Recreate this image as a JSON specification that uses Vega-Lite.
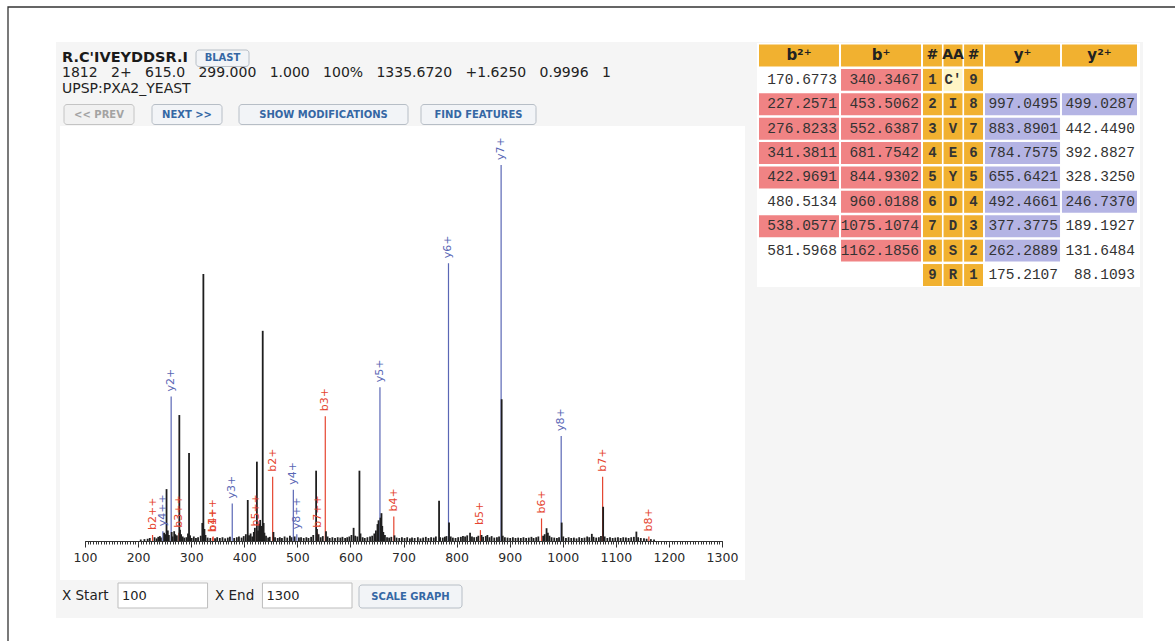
{
"$schema": "https://vega.github.io/schema/vega-lite/v6.json",
"width": 1167, "height": 634,
"autosize": {"type": "none"},
"padding": {"left": 8, "top": 7, "right": 0, "bottom": 0},
"background": "white",
"config": {"view": {"stroke": null}, "axis": {"grid": false}},
"resolve": {"scale": {"x": "independent", "y": "independent", "color": "independent"}, "axis": {"x": "independent", "y": "independent"}},
"datasets": {
"peaks": [
{"mz":227.26,"i":1.6,"ion":"b","label":"b2++"},
{"mz":246.74,"i":2.6,"ion":"y","label":"y4++"},
{"mz":262.29,"i":38.4,"ion":"y","label":"y2+"},
{"mz":276.82,"i":2.2,"ion":"b","label":"b3++"},
{"mz":340.35,"i":1.0,"ion":"b","label":"b1+"},
{"mz":341.38,"i":1.2,"ion":"b","label":"b4++"},
{"mz":377.38,"i":10.0,"ion":"y","label":"y3+"},
{"mz":422.97,"i":2.5,"ion":"b","label":"b5++"},
{"mz":453.51,"i":17.1,"ion":"b","label":"b2+"},
{"mz":492.47,"i":13.6,"ion":"y","label":"y4+"},
{"mz":499.03,"i":1.8,"ion":"y","label":"y8++"},
{"mz":538.06,"i":2.2,"ion":"b","label":"b7++"},
{"mz":552.64,"i":33.2,"ion":"b","label":"b3+"},
{"mz":655.64,"i":40.9,"ion":"y","label":"y5+"},
{"mz":681.75,"i":6.5,"ion":"b","label":"b4+"},
{"mz":784.76,"i":73.9,"ion":"y","label":"y6+"},
{"mz":844.93,"i":2.9,"ion":"b","label":"b5+"},
{"mz":883.89,"i":100,"ion":"y","label":"y7+"},
{"mz":960.02,"i":6.0,"ion":"b","label":"b6+"},
{"mz":997.05,"i":27.9,"ion":"y","label":"y8+"},
{"mz":1075.11,"i":17.1,"ion":"b","label":"b7+"},
{"mz":1162.19,"i":1.2,"ion":"b","label":"b8+"},
{"mz":205,"i":0.4,"ion":"n"},{"mz":212,"i":0.5,"ion":"n"},{"mz":218,"i":0.6,"ion":"n"},{"mz":222,"i":0.8,"ion":"n"},
{"mz":231,"i":1.0,"ion":"n"},{"mz":235,"i":0.7,"ion":"n"},{"mz":238,"i":1.1,"ion":"n"},{"mz":241,"i":1.3,"ion":"n"},
{"mz":243,"i":0.9,"ion":"n"},{"mz":249,"i":2.2,"ion":"n"},{"mz":251,"i":1.8,"ion":"n"},{"mz":253.6,"i":13.8,"ion":"n"},
{"mz":256,"i":2.8,"ion":"n"},{"mz":258,"i":1.6,"ion":"n"},{"mz":263.3,"i":2.4,"ion":"n"},{"mz":265,"i":1.2,"ion":"n"},
{"mz":268,"i":2.6,"ion":"n"},{"mz":270,"i":1.8,"ion":"n"},{"mz":273,"i":1.5,"ion":"n"},{"mz":277.7,"i":33.5,"ion":"n"},
{"mz":279,"i":3.0,"ion":"n"},{"mz":281,"i":1.8,"ion":"n"},{"mz":284,"i":1.2,"ion":"n"},{"mz":287,"i":0.9,"ion":"n"},
{"mz":291,"i":1.0,"ion":"n"},{"mz":294,"i":2.0,"ion":"n"},{"mz":296,"i":23.4,"ion":"n"},{"mz":298,"i":1.5,"ion":"n"},
{"mz":301,"i":0.8,"ion":"n"},{"mz":305,"i":1.2,"ion":"n"},{"mz":309,"i":0.8,"ion":"n"},{"mz":313,"i":1.0,"ion":"n"},
{"mz":318,"i":1.4,"ion":"n"},{"mz":321,"i":4.8,"ion":"n"},{"mz":323,"i":71.0,"ion":"n"},{"mz":325,"i":3.2,"ion":"n"},
{"mz":327,"i":1.6,"ion":"n"},{"mz":331,"i":0.9,"ion":"n"},{"mz":336,"i":0.8,"ion":"n"},{"mz":345,"i":0.7,"ion":"n"},
{"mz":349,"i":1.0,"ion":"n"},{"mz":354,"i":0.8,"ion":"n"},{"mz":359,"i":1.0,"ion":"n"},{"mz":364,"i":0.7,"ion":"n"},
{"mz":369,"i":0.9,"ion":"n"},{"mz":373,"i":1.1,"ion":"n"},{"mz":381,"i":0.8,"ion":"n"},{"mz":386,"i":1.0,"ion":"n"},
{"mz":390,"i":1.2,"ion":"n"},{"mz":395,"i":0.9,"ion":"n"},{"mz":399,"i":1.3,"ion":"n"},{"mz":403,"i":1.8,"ion":"n"},
{"mz":406.6,"i":10.9,"ion":"n"},{"mz":409,"i":1.5,"ion":"n"},{"mz":412,"i":2.0,"ion":"n"},{"mz":415,"i":1.2,"ion":"n"},
{"mz":418,"i":2.4,"ion":"n"},{"mz":420,"i":3.5,"ion":"n"},{"mz":423.8,"i":21.1,"ion":"n"},{"mz":426,"i":2.8,"ion":"n"},
{"mz":428,"i":4.6,"ion":"n"},{"mz":430,"i":5.6,"ion":"n"},{"mz":432,"i":4.0,"ion":"n"},{"mz":434.8,"i":55.9,"ion":"n"},
{"mz":436.5,"i":4.8,"ion":"n"},{"mz":438,"i":2.2,"ion":"n"},{"mz":441,"i":1.4,"ion":"n"},{"mz":445,"i":0.9,"ion":"n"},
{"mz":448,"i":1.1,"ion":"n"},{"mz":455,"i":2.4,"ion":"n"},{"mz":458,"i":1.0,"ion":"n"},{"mz":463,"i":0.8,"ion":"n"},
{"mz":467,"i":1.0,"ion":"n"},{"mz":471,"i":0.8,"ion":"n"},{"mz":476,"i":1.2,"ion":"n"},{"mz":481,"i":0.9,"ion":"n"},
{"mz":486,"i":1.4,"ion":"n"},{"mz":489,"i":1.0,"ion":"n"},{"mz":495,"i":1.2,"ion":"n"},{"mz":503,"i":0.9,"ion":"n"},
{"mz":507,"i":1.0,"ion":"n"},{"mz":512,"i":0.8,"ion":"n"},{"mz":517,"i":1.0,"ion":"n"},{"mz":521,"i":0.8,"ion":"n"},
{"mz":526,"i":1.1,"ion":"n"},{"mz":530,"i":1.6,"ion":"n"},{"mz":535.4,"i":18.7,"ion":"n"},{"mz":537,"i":3.2,"ion":"n"},
{"mz":540,"i":1.8,"ion":"n"},{"mz":544,"i":1.0,"ion":"n"},{"mz":548,"i":1.3,"ion":"n"},{"mz":554,"i":2.6,"ion":"n"},
{"mz":557,"i":1.2,"ion":"n"},{"mz":561,"i":0.8,"ion":"n"},{"mz":566,"i":1.0,"ion":"n"},{"mz":571,"i":0.8,"ion":"n"},
{"mz":576,"i":1.0,"ion":"n"},{"mz":581,"i":0.9,"ion":"n"},{"mz":585,"i":1.1,"ion":"n"},{"mz":590,"i":0.8,"ion":"n"},
{"mz":594,"i":1.0,"ion":"n"},{"mz":598,"i":1.2,"ion":"n"},{"mz":602,"i":1.6,"ion":"n"},{"mz":606,"i":3.5,"ion":"n"},
{"mz":609,"i":1.4,"ion":"n"},{"mz":613,"i":1.2,"ion":"n"},{"mz":617,"i":18.7,"ion":"n"},{"mz":619,"i":2.0,"ion":"n"},
{"mz":623,"i":1.0,"ion":"n"},{"mz":627,"i":0.8,"ion":"n"},{"mz":632,"i":1.0,"ion":"n"},{"mz":637,"i":1.2,"ion":"n"},
{"mz":641,"i":1.4,"ion":"n"},{"mz":645,"i":2.0,"ion":"n"},{"mz":648,"i":2.8,"ion":"n"},{"mz":651,"i":4.5,"ion":"n"},
{"mz":653,"i":5.5,"ion":"n"},{"mz":656.6,"i":6.2,"ion":"n"},{"mz":658.5,"i":7.4,"ion":"n"},{"mz":660,"i":4.0,"ion":"n"},
{"mz":662,"i":2.4,"ion":"n"},{"mz":665,"i":1.6,"ion":"n"},{"mz":669,"i":1.0,"ion":"n"},{"mz":673,"i":0.9,"ion":"n"},
{"mz":677,"i":1.1,"ion":"n"},{"mz":683,"i":1.5,"ion":"n"},{"mz":687,"i":0.9,"ion":"n"},{"mz":692,"i":0.8,"ion":"n"},
{"mz":697,"i":1.0,"ion":"n"},{"mz":702,"i":0.8,"ion":"n"},{"mz":707,"i":1.0,"ion":"n"},{"mz":712,"i":0.7,"ion":"n"},
{"mz":716,"i":0.9,"ion":"n"},{"mz":721,"i":0.8,"ion":"n"},{"mz":727,"i":1.0,"ion":"n"},{"mz":732,"i":0.7,"ion":"n"},
{"mz":737,"i":0.9,"ion":"n"},{"mz":742,"i":1.1,"ion":"n"},{"mz":747,"i":0.8,"ion":"n"},{"mz":752,"i":1.0,"ion":"n"},
{"mz":757,"i":0.9,"ion":"n"},{"mz":761,"i":1.2,"ion":"n"},{"mz":767,"i":10.7,"ion":"n"},{"mz":769,"i":1.0,"ion":"n"},
{"mz":774,"i":0.9,"ion":"n"},{"mz":778,"i":1.1,"ion":"n"},{"mz":781,"i":1.3,"ion":"n"},{"mz":785.8,"i":4.9,"ion":"n"},
{"mz":789,"i":1.2,"ion":"n"},{"mz":793,"i":0.9,"ion":"n"},{"mz":798,"i":0.8,"ion":"n"},{"mz":803,"i":1.0,"ion":"n"},
{"mz":808,"i":1.1,"ion":"n"},{"mz":812,"i":1.3,"ion":"n"},{"mz":816,"i":1.2,"ion":"n"},{"mz":820,"i":1.5,"ion":"n"},
{"mz":825.4,"i":2.2,"ion":"n"},{"mz":829,"i":1.2,"ion":"n"},{"mz":833,"i":1.0,"ion":"n"},{"mz":838,"i":1.1,"ion":"n"},
{"mz":841,"i":1.4,"ion":"n"},{"mz":847,"i":1.6,"ion":"n"},{"mz":850,"i":1.1,"ion":"n"},{"mz":855,"i":1.3,"ion":"n"},
{"mz":858,"i":1.6,"ion":"n"},{"mz":862,"i":1.0,"ion":"n"},{"mz":866,"i":1.3,"ion":"n"},{"mz":871,"i":0.9,"ion":"n"},
{"mz":876,"i":1.0,"ion":"n"},{"mz":880,"i":1.2,"ion":"n"},{"mz":884.9,"i":37.7,"ion":"n"},{"mz":887,"i":1.4,"ion":"n"},
{"mz":891,"i":1.0,"ion":"n"},{"mz":896,"i":0.9,"ion":"n"},{"mz":901,"i":0.8,"ion":"n"},{"mz":906,"i":1.0,"ion":"n"},
{"mz":911,"i":0.8,"ion":"n"},{"mz":916,"i":0.9,"ion":"n"},{"mz":921,"i":0.8,"ion":"n"},{"mz":926,"i":1.0,"ion":"n"},
{"mz":931,"i":0.8,"ion":"n"},{"mz":936,"i":0.9,"ion":"n"},{"mz":941,"i":1.1,"ion":"n"},{"mz":945,"i":0.8,"ion":"n"},
{"mz":950,"i":1.0,"ion":"n"},{"mz":954,"i":1.2,"ion":"n"},{"mz":963,"i":1.4,"ion":"n"},{"mz":966,"i":1.8,"ion":"n"},
{"mz":969.5,"i":3.4,"ion":"n"},{"mz":972,"i":2.2,"ion":"n"},{"mz":975,"i":1.4,"ion":"n"},{"mz":979,"i":1.0,"ion":"n"},
{"mz":984,"i":0.9,"ion":"n"},{"mz":989,"i":0.8,"ion":"n"},{"mz":993,"i":1.0,"ion":"n"},{"mz":998,"i":4.9,"ion":"n"},
{"mz":1001,"i":1.2,"ion":"n"},{"mz":1006,"i":0.8,"ion":"n"},{"mz":1011,"i":1.0,"ion":"n"},{"mz":1016,"i":0.8,"ion":"n"},
{"mz":1021,"i":0.9,"ion":"n"},{"mz":1026,"i":0.7,"ion":"n"},{"mz":1031,"i":1.0,"ion":"n"},{"mz":1036,"i":0.8,"ion":"n"},
{"mz":1041,"i":0.9,"ion":"n"},{"mz":1046,"i":1.2,"ion":"n"},{"mz":1050,"i":1.0,"ion":"n"},{"mz":1054.8,"i":1.9,"ion":"n"},
{"mz":1058,"i":1.1,"ion":"n"},{"mz":1063,"i":0.9,"ion":"n"},{"mz":1068,"i":1.0,"ion":"n"},{"mz":1072,"i":1.3,"ion":"n"},
{"mz":1076.1,"i":9.1,"ion":"n"},{"mz":1079,"i":1.2,"ion":"n"},{"mz":1084,"i":0.8,"ion":"n"},{"mz":1089,"i":1.0,"ion":"n"},
{"mz":1094,"i":0.8,"ion":"n"},{"mz":1099,"i":0.9,"ion":"n"},{"mz":1104,"i":1.0,"ion":"n"},{"mz":1109,"i":0.8,"ion":"n"},
{"mz":1114,"i":1.0,"ion":"n"},{"mz":1119,"i":0.9,"ion":"n"},{"mz":1124,"i":0.8,"ion":"n"},{"mz":1129,"i":1.0,"ion":"n"},
{"mz":1134,"i":1.1,"ion":"n"},{"mz":1138.7,"i":2.5,"ion":"n"},{"mz":1142,"i":1.0,"ion":"n"},{"mz":1147,"i":0.8,"ion":"n"},
{"mz":1153,"i":0.7,"ion":"n"},{"mz":1158,"i":0.6,"ion":"n"},{"mz":1166,"i":0.5,"ion":"n"},{"mz":1172,"i":0.4,"ion":"n"}
],
"table": [
{"row":"h","col":"b2+","text":"b²⁺","kind":"gold"},{"row":"h","col":"b+","text":"b⁺","kind":"gold"},{"row":"h","col":"n1","text":"#","kind":"gold"},{"row":"h","col":"aa","text":"AA","kind":"gold"},{"row":"h","col":"n2","text":"#","kind":"gold"},{"row":"h","col":"y+","text":"y⁺","kind":"gold"},{"row":"h","col":"y2+","text":"y²⁺","kind":"gold"},
{"row":"1","col":"b2+","text":"170.6773","kind":"plain"},{"row":"1","col":"b+","text":"340.3467","kind":"b"},{"row":"1","col":"n1","text":"1","kind":"gold"},{"row":"1","col":"aa","text":"C'","kind":"cmod"},{"row":"1","col":"n2","text":"9","kind":"gold"},{"row":"1","col":"y+","text":"","kind":"plain"},{"row":"1","col":"y2+","text":"","kind":"plain"},
{"row":"2","col":"b2+","text":"227.2571","kind":"b"},{"row":"2","col":"b+","text":"453.5062","kind":"b"},{"row":"2","col":"n1","text":"2","kind":"gold"},{"row":"2","col":"aa","text":"I","kind":"gold"},{"row":"2","col":"n2","text":"8","kind":"gold"},{"row":"2","col":"y+","text":"997.0495","kind":"y"},{"row":"2","col":"y2+","text":"499.0287","kind":"y"},
{"row":"3","col":"b2+","text":"276.8233","kind":"b"},{"row":"3","col":"b+","text":"552.6387","kind":"b"},{"row":"3","col":"n1","text":"3","kind":"gold"},{"row":"3","col":"aa","text":"V","kind":"gold"},{"row":"3","col":"n2","text":"7","kind":"gold"},{"row":"3","col":"y+","text":"883.8901","kind":"y"},{"row":"3","col":"y2+","text":"442.4490","kind":"plain"},
{"row":"4","col":"b2+","text":"341.3811","kind":"b"},{"row":"4","col":"b+","text":"681.7542","kind":"b"},{"row":"4","col":"n1","text":"4","kind":"gold"},{"row":"4","col":"aa","text":"E","kind":"gold"},{"row":"4","col":"n2","text":"6","kind":"gold"},{"row":"4","col":"y+","text":"784.7575","kind":"y"},{"row":"4","col":"y2+","text":"392.8827","kind":"plain"},
{"row":"5","col":"b2+","text":"422.9691","kind":"b"},{"row":"5","col":"b+","text":"844.9302","kind":"b"},{"row":"5","col":"n1","text":"5","kind":"gold"},{"row":"5","col":"aa","text":"Y","kind":"gold"},{"row":"5","col":"n2","text":"5","kind":"gold"},{"row":"5","col":"y+","text":"655.6421","kind":"y"},{"row":"5","col":"y2+","text":"328.3250","kind":"plain"},
{"row":"6","col":"b2+","text":"480.5134","kind":"plain"},{"row":"6","col":"b+","text":"960.0188","kind":"b"},{"row":"6","col":"n1","text":"6","kind":"gold"},{"row":"6","col":"aa","text":"D","kind":"gold"},{"row":"6","col":"n2","text":"4","kind":"gold"},{"row":"6","col":"y+","text":"492.4661","kind":"y"},{"row":"6","col":"y2+","text":"246.7370","kind":"y"},
{"row":"7","col":"b2+","text":"538.0577","kind":"b"},{"row":"7","col":"b+","text":"1075.1074","kind":"b"},{"row":"7","col":"n1","text":"7","kind":"gold"},{"row":"7","col":"aa","text":"D","kind":"gold"},{"row":"7","col":"n2","text":"3","kind":"gold"},{"row":"7","col":"y+","text":"377.3775","kind":"y"},{"row":"7","col":"y2+","text":"189.1927","kind":"plain"},
{"row":"8","col":"b2+","text":"581.5968","kind":"plain"},{"row":"8","col":"b+","text":"1162.1856","kind":"b"},{"row":"8","col":"n1","text":"8","kind":"gold"},{"row":"8","col":"aa","text":"S","kind":"gold"},{"row":"8","col":"n2","text":"2","kind":"gold"},{"row":"8","col":"y+","text":"262.2889","kind":"y"},{"row":"8","col":"y2+","text":"131.6484","kind":"plain"},
{"row":"9","col":"b2+","text":"","kind":"plain"},{"row":"9","col":"b+","text":"","kind":"plain"},{"row":"9","col":"n1","text":"9","kind":"gold"},{"row":"9","col":"aa","text":"R","kind":"gold"},{"row":"9","col":"n2","text":"1","kind":"gold"},{"row":"9","col":"y+","text":"175.2107","kind":"plain"},{"row":"9","col":"y2+","text":"88.1093","kind":"plain"}
]
},
"layer": [
{"data": {"values": [{"region": "frame"}]},
 "mark": {"type": "rect", "fill": null, "stroke": "#333333", "strokeWidth": 1.3},
 "encoding": {
  "x": {"field": "region", "type": "nominal", "scale": {"type": "band", "range": [0, 1300], "paddingInner": 0, "paddingOuter": 0}, "axis": null},
  "y": {"field": "region", "type": "nominal", "scale": {"type": "band", "range": [0, 800], "paddingInner": 0, "paddingOuter": 0}, "axis": null}}},
{"data": {"values": [{"region": "panel"}]},
 "mark": {"type": "rect", "fill": "#f5f5f5"},
 "encoding": {
  "x": {"field": "region", "type": "nominal", "scale": {"type": "band", "range": [48, 1135], "paddingInner": 0, "paddingOuter": 0}, "axis": null},
  "y": {"field": "region", "type": "nominal", "scale": {"type": "band", "range": [35, 611], "paddingInner": 0, "paddingOuter": 0}, "axis": null}}},
{"data": {"values": [{"region": "spectrum"}]},
 "mark": {"type": "rect", "fill": "#ffffff"},
 "encoding": {
  "x": {"field": "region", "type": "nominal", "scale": {"type": "band", "range": [52, 737], "paddingInner": 0, "paddingOuter": 0}, "axis": null},
  "y": {"field": "region", "type": "nominal", "scale": {"type": "band", "range": [119, 573], "paddingInner": 0, "paddingOuter": 0}, "axis": null}}},
{"data": {"values": [{"region": "table"}]},
 "mark": {"type": "rect", "fill": "#ffffff"},
 "encoding": {
  "x": {"field": "region", "type": "nominal", "scale": {"type": "band", "range": [749, 1132], "paddingInner": 0, "paddingOuter": 0}, "axis": null},
  "y": {"field": "region", "type": "nominal", "scale": {"type": "band", "range": [36, 280], "paddingInner": 0, "paddingOuter": 0}, "axis": null}}},
{"data": {"name": "table"},
 "transform": [{"filter": {"field": "col", "oneOf": ["b2+", "b+"]}}],
 "encoding": {
  "x": {"field": "col", "type": "nominal", "scale": {"type": "band", "domain": ["b2+", "b+"], "range": [751, 913], "paddingInner": 0.025, "paddingOuter": 0}, "axis": null},
  "y": {"field": "row", "type": "nominal", "scale": {"type": "band", "domain": ["h","1","2","3","4","5","6","7","8","9"], "range": [37.5, 279], "paddingInner": 0.1, "paddingOuter": 0}, "axis": null}},
 "layer": [
  {"mark": {"type": "rect"}, "encoding": {"fill": {"field": "kind", "type": "nominal", "scale": {"domain": ["gold","b","y","plain","cmod"], "range": ["#f1b130","#f08384","#b4b4e4","#ffffff","#fff5c4"]}, "legend": null}}},
  {"transform": [{"filter": "datum.row == 'h'"}], "mark": {"type": "text", "font": "DejaVu Sans", "fontSize": 15, "fontWeight": "bold", "fill": "#222222"}, "encoding": {"text": {"field": "text", "type": "nominal"}}},
  {"transform": [{"filter": "datum.row != 'h'"}], "mark": {"type": "text", "font": "Liberation Mono", "fontSize": 14.5, "fill": "#333333", "align": "right", "dx": -2},
   "encoding": {"text": {"field": "text", "type": "nominal"}, "x": {"field": "col", "type": "nominal", "bandPosition": 1, "scale": {"type": "band", "domain": ["b2+", "b+"], "range": [751, 913], "paddingInner": 0.025, "paddingOuter": 0}, "axis": null}}}
 ]},
{"data": {"name": "table"},
 "transform": [{"filter": {"field": "col", "oneOf": ["n1", "aa", "n2"]}}],
 "encoding": {
  "x": {"field": "col", "type": "nominal", "scale": {"type": "band", "domain": ["n1", "aa", "n2"], "range": [915, 975], "paddingInner": 0.08, "paddingOuter": 0}, "axis": null},
  "y": {"field": "row", "type": "nominal", "scale": {"type": "band", "domain": ["h","1","2","3","4","5","6","7","8","9"], "range": [37.5, 279], "paddingInner": 0.1, "paddingOuter": 0}, "axis": null}},
 "layer": [
  {"mark": {"type": "rect"}, "encoding": {"fill": {"field": "kind", "type": "nominal", "scale": {"domain": ["gold","b","y","plain","cmod"], "range": ["#f1b130","#f08384","#b4b4e4","#ffffff","#fff5c4"]}, "legend": null}}},
  {"transform": [{"filter": "datum.row == 'h'"}], "mark": {"type": "text", "font": "DejaVu Sans", "fontSize": 14, "fontWeight": "bold", "fill": "#222222"}, "encoding": {"text": {"field": "text", "type": "nominal"}}},
  {"transform": [{"filter": "datum.row != 'h'"}], "mark": {"type": "text", "font": "Liberation Mono", "fontSize": 14, "fontWeight": "bold", "fill": "#333333"}, "encoding": {"text": {"field": "text", "type": "nominal"}}}
 ]},
{"data": {"name": "table"},
 "transform": [{"filter": {"field": "col", "oneOf": ["y+", "y2+"]}}],
 "encoding": {
  "x": {"field": "col", "type": "nominal", "scale": {"type": "band", "domain": ["y+", "y2+"], "range": [977, 1129], "paddingInner": 0.025, "paddingOuter": 0}, "axis": null},
  "y": {"field": "row", "type": "nominal", "scale": {"type": "band", "domain": ["h","1","2","3","4","5","6","7","8","9"], "range": [37.5, 279], "paddingInner": 0.1, "paddingOuter": 0}, "axis": null}},
 "layer": [
  {"mark": {"type": "rect"}, "encoding": {"fill": {"field": "kind", "type": "nominal", "scale": {"domain": ["gold","b","y","plain","cmod"], "range": ["#f1b130","#f08384","#b4b4e4","#ffffff","#fff5c4"]}, "legend": null}}},
  {"transform": [{"filter": "datum.row == 'h'"}], "mark": {"type": "text", "font": "DejaVu Sans", "fontSize": 15, "fontWeight": "bold", "fill": "#222222"}, "encoding": {"text": {"field": "text", "type": "nominal"}}},
  {"transform": [{"filter": "datum.row != 'h'"}], "mark": {"type": "text", "font": "Liberation Mono", "fontSize": 14.5, "fill": "#333333", "align": "right", "dx": -2},
   "encoding": {"text": {"field": "text", "type": "nominal"}, "x": {"field": "col", "type": "nominal", "bandPosition": 1, "scale": {"type": "band", "domain": ["y+", "y2+"], "range": [977, 1129], "paddingInner": 0.025, "paddingOuter": 0}, "axis": null}}}
 ]},
{"data": {"values": [
  {"line": "title", "text": "R.C'IVEYDDSR.I"},
  {"line": "stats", "text": "1812\u00a0\u00a0\u00a02+\u00a0\u00a0\u00a0615.0\u00a0\u00a0\u00a0299.000\u00a0\u00a0\u00a01.000\u00a0\u00a0\u00a0100%\u00a0\u00a0\u00a01335.6720\u00a0\u00a0\u00a0+1.6250\u00a0\u00a0\u00a00.9996\u00a0\u00a0\u00a01"},
  {"line": "protein", "text": "UPSP:PXA2_YEAST"}]},
 "encoding": {
  "x": {"field": "line", "type": "nominal", "scale": {"type": "point", "range": [54, 54], "padding": 0}, "axis": null},
  "y": {"field": "line", "type": "nominal", "scale": {"type": "point", "domain": ["title", "stats", "protein"], "range": [50.5, 81.5], "padding": 0}, "axis": null},
  "text": {"field": "text", "type": "nominal"}},
 "layer": [
  {"transform": [{"filter": "datum.line == 'title'"}], "mark": {"type": "text", "align": "left", "baseline": "middle", "font": "DejaVu Sans", "fontSize": 14.5, "fontWeight": "bold", "fill": "#1a1a1a"}},
  {"transform": [{"filter": "datum.line != 'title'"}], "mark": {"type": "text", "align": "left", "baseline": "middle", "font": "DejaVu Sans", "fontSize": 14, "fill": "#222222"}}
 ]},
{"data": {"values": [{"btn": "BLAST"}]},
 "encoding": {
  "x": {"field": "btn", "type": "nominal", "scale": {"type": "band", "range": [188, 241], "paddingInner": 0, "paddingOuter": 0}, "axis": null},
  "y": {"field": "btn", "type": "nominal", "scale": {"type": "band", "range": [43, 59.5], "paddingInner": 0, "paddingOuter": 0}, "axis": null}},
 "layer": [
  {"mark": {"type": "rect", "fill": "#f2f4f7", "stroke": "#b7bec6", "strokeWidth": 1, "cornerRadius": 3}},
  {"mark": {"type": "text", "font": "DejaVu Sans", "fontSize": 10, "fontWeight": "bold", "fill": "#3567a4"}, "encoding": {"text": {"field": "btn", "type": "nominal"}}}
 ]},
{"data": {"values": [{"btn": "<< PREV"}]},
 "encoding": {
  "x": {"field": "btn", "type": "nominal", "scale": {"type": "band", "range": [56, 126], "paddingInner": 0, "paddingOuter": 0}, "axis": null},
  "y": {"field": "btn", "type": "nominal", "scale": {"type": "band", "range": [97.5, 117.5], "paddingInner": 0, "paddingOuter": 0}, "axis": null}},
 "layer": [
  {"mark": {"type": "rect", "fill": "#f1f1f1", "stroke": "#c4c4c4", "strokeWidth": 1, "cornerRadius": 3}},
  {"mark": {"type": "text", "font": "DejaVu Sans", "fontSize": 10, "fontWeight": "bold", "fill": "#a3a3a3"}, "encoding": {"text": {"field": "btn", "type": "nominal"}}}
 ]},
{"data": {"values": [{"btn": "NEXT >>"}]},
 "encoding": {
  "x": {"field": "btn", "type": "nominal", "scale": {"type": "band", "range": [144, 214], "paddingInner": 0, "paddingOuter": 0}, "axis": null},
  "y": {"field": "btn", "type": "nominal", "scale": {"type": "band", "range": [97.5, 117.5], "paddingInner": 0, "paddingOuter": 0}, "axis": null}},
 "layer": [
  {"mark": {"type": "rect", "fill": "#f2f4f7", "stroke": "#b7bec6", "strokeWidth": 1, "cornerRadius": 3}},
  {"mark": {"type": "text", "font": "DejaVu Sans", "fontSize": 10, "fontWeight": "bold", "fill": "#3567a4"}, "encoding": {"text": {"field": "btn", "type": "nominal"}}}
 ]},
{"data": {"values": [{"btn": "SHOW MODIFICATIONS"}]},
 "encoding": {
  "x": {"field": "btn", "type": "nominal", "scale": {"type": "band", "range": [231, 400], "paddingInner": 0, "paddingOuter": 0}, "axis": null},
  "y": {"field": "btn", "type": "nominal", "scale": {"type": "band", "range": [97.5, 117.5], "paddingInner": 0, "paddingOuter": 0}, "axis": null}},
 "layer": [
  {"mark": {"type": "rect", "fill": "#f2f4f7", "stroke": "#b7bec6", "strokeWidth": 1, "cornerRadius": 3}},
  {"mark": {"type": "text", "font": "DejaVu Sans", "fontSize": 10, "fontWeight": "bold", "fill": "#3567a4"}, "encoding": {"text": {"field": "btn", "type": "nominal"}}}
 ]},
{"data": {"values": [{"btn": "FIND FEATURES"}]},
 "encoding": {
  "x": {"field": "btn", "type": "nominal", "scale": {"type": "band", "range": [413, 528], "paddingInner": 0, "paddingOuter": 0}, "axis": null},
  "y": {"field": "btn", "type": "nominal", "scale": {"type": "band", "range": [97.5, 117.5], "paddingInner": 0, "paddingOuter": 0}, "axis": null}},
 "layer": [
  {"mark": {"type": "rect", "fill": "#f2f4f7", "stroke": "#b7bec6", "strokeWidth": 1, "cornerRadius": 3}},
  {"mark": {"type": "text", "font": "DejaVu Sans", "fontSize": 10, "fontWeight": "bold", "fill": "#3567a4"}, "encoding": {"text": {"field": "btn", "type": "nominal"}}}
 ]},
{"data": {"values": [{"btn": "SCALE GRAPH"}]},
 "encoding": {
  "x": {"field": "btn", "type": "nominal", "scale": {"type": "band", "range": [351, 454], "paddingInner": 0, "paddingOuter": 0}, "axis": null},
  "y": {"field": "btn", "type": "nominal", "scale": {"type": "band", "range": [578, 601], "paddingInner": 0, "paddingOuter": 0}, "axis": null}},
 "layer": [
  {"mark": {"type": "rect", "fill": "#f2f4f7", "stroke": "#b7bec6", "strokeWidth": 1, "cornerRadius": 3}},
  {"mark": {"type": "text", "font": "DejaVu Sans", "fontSize": 10, "fontWeight": "bold", "fill": "#3567a4"}, "encoding": {"text": {"field": "btn", "type": "nominal"}}}
 ]},
{"data": {"values": [{"group": "range", "name": "X Start", "value": "100"}, {"group": "range", "name": "X End", "value": "1300"}]},
 "mark": {"type": "text", "align": "left", "baseline": "middle", "font": "DejaVu Sans", "fontSize": 13.5, "fill": "#222222"},
 "encoding": {
  "x": {"field": "name", "type": "nominal", "scale": {"type": "point", "domain": ["X Start", "X End"], "range": [54, 207], "padding": 0}, "axis": null},
  "y": {"field": "group", "type": "nominal", "scale": {"type": "point", "range": [589, 589], "padding": 0}, "axis": null},
  "text": {"field": "name", "type": "nominal"}}},
{"data": {"values": [{"group": "range", "name": "X Start", "value": "100"}, {"group": "range", "name": "X End", "value": "1300"}]},
 "encoding": {
  "x": {"field": "name", "type": "nominal", "scale": {"type": "band", "domain": ["X Start", "X End"], "range": [110, 344], "paddingInner": 0.38, "paddingOuter": 0}, "axis": null},
  "y": {"field": "group", "type": "nominal", "scale": {"type": "band", "range": [576, 601], "paddingInner": 0, "paddingOuter": 0}, "axis": null}},
 "layer": [
  {"mark": {"type": "rect", "fill": "#ffffff", "stroke": "#bdbdbd", "strokeWidth": 1}},
  {"mark": {"type": "text", "align": "left", "baseline": "middle", "dx": 4, "font": "DejaVu Sans", "fontSize": 13, "fill": "#222222"},
   "encoding": {"text": {"field": "value", "type": "nominal"}, "x": {"field": "name", "type": "nominal", "bandPosition": 0, "scale": {"type": "band", "domain": ["X Start", "X End"], "range": [110, 344], "paddingInner": 0.38, "paddingOuter": 0}, "axis": null}}}
 ]},
{"data": {"values": [{"mz": 100}]},
 "mark": {"type": "rule", "opacity": 0},
 "encoding": {
  "x": {"field": "mz", "type": "quantitative", "scale": {"domain": [100, 1300], "range": [77, 714], "nice": false, "zero": false},
        "axis": {"orient": "bottom", "offset": -100, "zindex": 2, "tickCount": 240, "labels": false, "tickSize": 3, "domainColor": "#333333", "tickColor": "#333333", "title": null, "grid": false}}}},
{"data": {"name": "peaks"},
 "encoding": {
  "x": {"field": "mz", "type": "quantitative", "scale": {"domain": [100, 1300], "range": [77, 714], "nice": false, "zero": false},
        "axis": {"orient": "bottom", "offset": -100, "zindex": 2, "values": [100,200,300,400,500,600,700,800,900,1000,1100,1200,1300], "format": "d", "tickSize": 6, "labelFont": "DejaVu Sans", "labelFontSize": 12.5, "labelColor": "#2a2a2a", "domainColor": "#333333", "tickColor": "#333333", "labelPadding": 4, "title": null, "grid": false, "labelFlush": false, "labelOverlap": false}},
  "y": {"field": "i", "type": "quantitative", "scale": {"domain": [0, 100], "range": [534, 158], "nice": false, "zero": true}, "axis": null},
  "color": {"field": "ion", "type": "nominal", "scale": {"domain": ["n", "b", "y"], "range": ["#1e1e1e", "#e5452f", "#5a67b5"]}, "legend": null}},
 "layer": [
  {"transform": [{"filter": "datum.ion != 'n'"}], "mark": {"type": "rule", "strokeWidth": 1.2}, "encoding": {"y2": {"datum": 0}}},
  {"transform": [{"filter": "datum.ion == 'n'"}], "mark": {"type": "rule", "strokeWidth": 1.8}, "encoding": {"y2": {"datum": 0}}},
  {"transform": [{"filter": "datum.label"}], "mark": {"type": "text", "angle": 270, "align": "left", "baseline": "middle", "dx": 5, "font": "DejaVu Sans", "fontSize": 11}, "encoding": {"text": {"field": "label", "type": "nominal"}}}
 ]}
]
}
